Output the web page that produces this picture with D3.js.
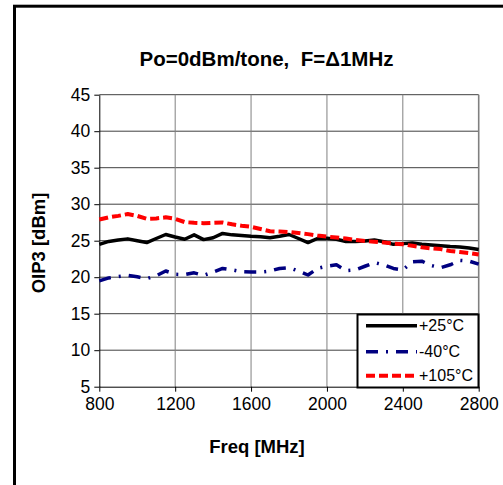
<!DOCTYPE html>
<html><head><meta charset="utf-8">
<script src="https://cdn.jsdelivr.net/npm/d3@7"></script>
<style>body{margin:0;background:#fff}svg{display:block}text{font-family:"Liberation Sans",Arial,sans-serif;white-space:pre}</style>
</head><body><svg id="c" width="503" height="485"></svg>
<script>
const freqs = d3.range(800, 2801, 50);
const s25 = [24.5,24.9,25.1,25.25,25.0,24.75,25.3,25.85,25.5,25.2,25.8,25.15,25.4,26.0,25.8,25.7,25.6,25.55,25.4,25.6,25.85,25.3,24.75,25.3,25.35,25.2,24.9,24.9,24.95,25.1,24.85,24.5,24.6,24.7,24.5,24.4,24.3,24.2,24.15,24.0,23.8];
const sM40 = [19.5,19.9,20.1,20.25,20.05,19.8,20.2,20.85,20.4,20.35,20.6,20.25,20.7,21.2,21.0,20.75,20.7,20.7,20.85,21.2,21.3,20.85,20.3,21.2,21.5,21.7,20.9,21.0,21.5,22.0,21.7,21.2,21.0,22.1,22.2,21.6,21.3,21.7,22.3,22.2,21.8];
const s105 = [27.9,28.2,28.4,28.65,28.4,28.0,28.05,28.2,28.0,27.55,27.45,27.4,27.45,27.5,27.25,27.05,26.9,26.6,26.3,26.25,26.2,26.05,25.9,25.7,25.55,25.45,25.3,25.1,24.95,24.85,24.75,24.6,24.5,24.3,24.1,23.95,23.85,23.6,23.45,23.3,23.1];
const xTicks = [800,1200,1600,2000,2400,2800];
const yTicks = [5,10,15,20,25,30,35,40,45];
const seriesNames = ["+25°C","-40°C","+105°C"];
const titleText = "Po=0dBm/tone,  F=\u03941MHz";

const series = [
  {name: seriesNames[0], vals: s25, color: "#000000", width: 3.5, dash: null},
  {name: seriesNames[1], vals: sM40, color: "#000080", width: 3.5, dash: "12,8,2,8"},
  {name: seriesNames[2], vals: s105, color: "#ff0000", width: 4, dash: "9,4"}
];

const svg = d3.select("#c");
const L = 99.3, R = 478.7, T = 94.7, B = 386.7;
const x = d3.scaleLinear().domain([800, 2800]).range([L, R]);
const y = d3.scaleLinear().domain([5, 45]).range([B, T]);

// outer border
svg.append("rect").attr("x", 14.5).attr("y", 6.2).attr("width", 600).attr("height", 600)
  .attr("fill", "none").attr("stroke", "#000").attr("stroke-width", 3);

// title
svg.append("text").attr("x", 266.5).attr("y", 65.5).attr("text-anchor", "middle")
  .attr("font-size", 20.5).attr("font-weight", "bold").text(titleText);

// gridlines
svg.append("g").selectAll("line").data(yTicks.slice(1)).join("line")
  .attr("x1", L).attr("x2", R).attr("y1", d => y(d)).attr("y2", d => y(d))
  .attr("stroke", "#404040").attr("stroke-width", 1);
svg.append("g").selectAll("line").data(xTicks.slice(1)).join("line")
  .attr("x1", d => x(d)).attr("x2", d => x(d)).attr("y1", T).attr("y2", B)
  .attr("stroke", "#808080").attr("stroke-width", d => d === 2800 ? 1.6 : 1);

// axes
const ya = svg.append("g").attr("transform", `translate(${L},0)`)
  .call(d3.axisLeft(y).tickValues(yTicks).tickSize(5).tickPadding(4).tickSizeOuter(0));
const xa = svg.append("g").attr("transform", `translate(0,${B})`)
  .call(d3.axisBottom(x).tickValues(xTicks).tickSize(5).tickPadding(6).tickSizeOuter(0).tickFormat(d3.format("d")));
[ya, xa].forEach(g => {
  g.select(".domain").attr("stroke", "#000").attr("stroke-width", 1);
  g.selectAll(".tick line").attr("stroke", "#000");
  g.selectAll("text").attr("font-size", 17.5).attr("fill", "#000").attr("font-family", "Liberation Sans, Arial, sans-serif");
});

// axis titles
svg.append("text").attr("x", 257).attr("y", 452.5).attr("text-anchor", "middle")
  .attr("font-size", 18.5).attr("font-weight", "bold").text("Freq [MHz]");
svg.append("text").attr("transform", "translate(45,243) rotate(-90)").attr("text-anchor", "middle")
  .attr("font-size", 18.5).attr("font-weight", "bold").text("OIP3 [dBm]");

// lines
const line = d3.line().x((d, i) => x(freqs[i])).y(d => y(d)).curve(d3.curveLinear);
series.forEach(s => {
  svg.append("path").datum(s.vals).attr("d", line).attr("fill", "none")
    .attr("stroke", s.color).attr("stroke-width", s.width)
    .attr("stroke-dasharray", s.dash).attr("stroke-linejoin", "round");
});

// legend
const lg = svg.append("g");
lg.append("rect").attr("x", 357.5).attr("y", 314.5).attr("width", 121).attr("height", 73)
  .attr("fill", "#fff").attr("stroke", "#000").attr("stroke-width", 2);
const rowsY = [325.7, 351.7, 375.7];
series.forEach((s, i) => {
  lg.append("line").attr("x1", 366).attr("x2", 417).attr("y1", rowsY[i]).attr("y2", rowsY[i])
    .attr("stroke", s.color).attr("stroke-width", s.width).attr("stroke-dasharray", s.dash);
  lg.append("text").attr("x", 419).attr("y", rowsY[i] + 5.5).attr("font-size", 16).text(s.name);
});
</script></body></html>
